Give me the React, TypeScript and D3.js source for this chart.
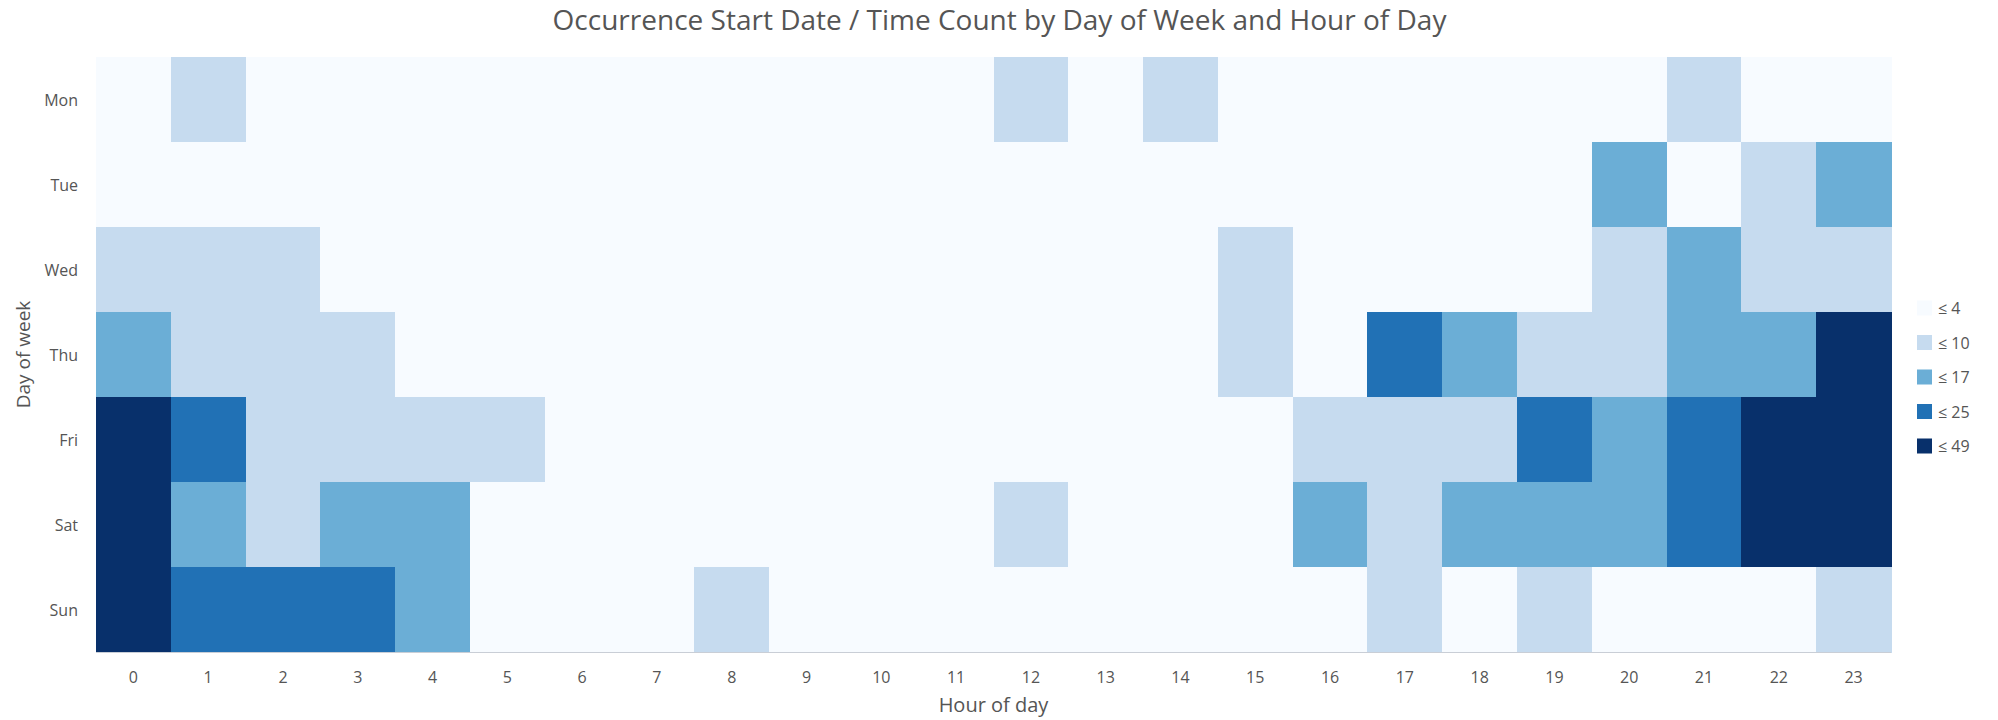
import React from "react";
import * as d3 from "d3";

const days = ["Mon", "Tue", "Wed", "Thu", "Fri", "Sat", "Sun"];
const hours = d3.range(0, 24).map(String);

// Estimated counts per day (rows) and hour (columns 0..23)
const mon = [2, 7, 3, 2, 1, 1, 0, 1, 2, 3, 3, 4, 6, 4, 6, 3, 3, 4, 3, 4, 4, 7, 4, 3];
const tue = [3, 2, 2, 1, 1, 0, 1, 1, 2, 2, 3, 3, 4, 3, 3, 4, 4, 4, 4, 4, 14, 4, 8, 13];
const wed = [8, 7, 6, 3, 2, 1, 1, 2, 2, 3, 3, 4, 4, 3, 4, 6, 4, 4, 4, 4, 8, 15, 9, 8];
const thu = [12, 8, 7, 6, 3, 1, 1, 1, 2, 3, 3, 4, 4, 3, 4, 6, 4, 22, 14, 9, 9, 15, 13, 34];
const fri = [38, 21, 9, 8, 7, 5, 2, 1, 2, 3, 3, 4, 4, 4, 4, 4, 8, 9, 9, 20, 16, 23, 40, 45];
const sat = [46, 13, 8, 12, 11, 4, 2, 1, 2, 2, 3, 3, 6, 3, 4, 4, 12, 8, 14, 15, 16, 24, 43, 49];
const sun = [44, 22, 20, 19, 12, 4, 2, 1, 5, 2, 2, 3, 4, 3, 3, 3, 4, 7, 4, 6, 4, 4, 4, 7];
const counts = [mon, tue, wed, thu, fri, sat, sun];

const thresholds = [4, 10, 17, 25, 49];
const legendLabels = ["≤ 4", "≤ 10", "≤ 17", "≤ 25", "≤ 49"];
const colors = ["#f7fbff", "#c6dbef", "#6baed6", "#2171b5", "#08306b"];

const title = "Occurrence Start Date / Time Count by Day of Week and Hour of Day";
const xTitle = "Hour of day";
const yTitle = "Day of week";

export default function App() {
  const W = 1998;
  const H = 720;
  const left = 96;
  const right = 1891;
  const top = 57;
  const bottom = 652;
  const font = "'Open Sans', 'Noto Sans', sans-serif";

  const x = d3.scaleBand<string>().domain(hours).range([left, right]).padding(0);
  const y = d3.scaleBand<string>().domain(days).range([top, bottom]).padding(0);
  const color = d3
    .scaleThreshold<number, string>()
    .domain(thresholds.slice(0, 4).map((t) => t + 0.5))
    .range(colors);

  const cells: { d: string; h: string; v: number }[] = [];
  counts.forEach((row, i) =>
    row.forEach((v, j) => cells.push({ d: days[i], h: hours[j], v }))
  );

  const legendY = d3.scalePoint<string>().domain(legendLabels).range([308, 446]);

  return (
    <svg width={W} height={H} style={{ position: "absolute", left: 0, top: 0 }} fontFamily={font}>
      <rect x={0} y={0} width={W} height={H} fill="#fff" />
      <text x={(left + right) / 2 + 6} y={30} textAnchor="middle" fontSize={28} fill="#555">
        {title}
      </text>
      <g shapeRendering="crispEdges">
        {cells.map((c, i) => (
          <rect
            key={i}
            x={x(c.h)}
            y={y(c.d)}
            width={x.bandwidth() + 0.5}
            height={y.bandwidth() + 0.5}
            fill={color(c.v)}
          />
        ))}
      </g>
      <line x1={left} x2={right} y1={bottom + 0.5} y2={bottom + 0.5} stroke="#c9ced6" strokeWidth={1} shapeRendering="crispEdges" />
      {days.map((d) => (
        <text
          key={d}
          x={78}
          y={(y(d) as number) + y.bandwidth() / 2}
          textAnchor="end"
          dominantBaseline="central"
          fontSize={16}
          fill="#555"
        >
          {d}
        </text>
      ))}
      {hours.map((h) => (
        <text
          key={h}
          x={(x(h) as number) + x.bandwidth() / 2}
          y={677}
          textAnchor="middle"
          dominantBaseline="central"
          fontSize={16}
          fill="#555"
        >
          {h}
        </text>
      ))}
      <text x={(left + right) / 2} y={704} textAnchor="middle" dominantBaseline="central" fontSize={20} fill="#555">
        {xTitle}
      </text>
      <text
        transform={`translate(23, ${(top + bottom) / 2}) rotate(-90)`}
        textAnchor="middle"
        dominantBaseline="central"
        fontSize={19}
        fill="#555"
      >
        {yTitle}
      </text>
      {legendLabels.map((l, i) => (
        <g key={l}>
          <rect x={1917} y={(legendY(l) as number) - 7.5} width={15} height={15} fill={colors[i]} />
          <text x={1938} y={legendY(l) as number} dominantBaseline="central" fontSize={16} fill="#555">
            {l}
          </text>
        </g>
      ))}
    </svg>
  );
}
